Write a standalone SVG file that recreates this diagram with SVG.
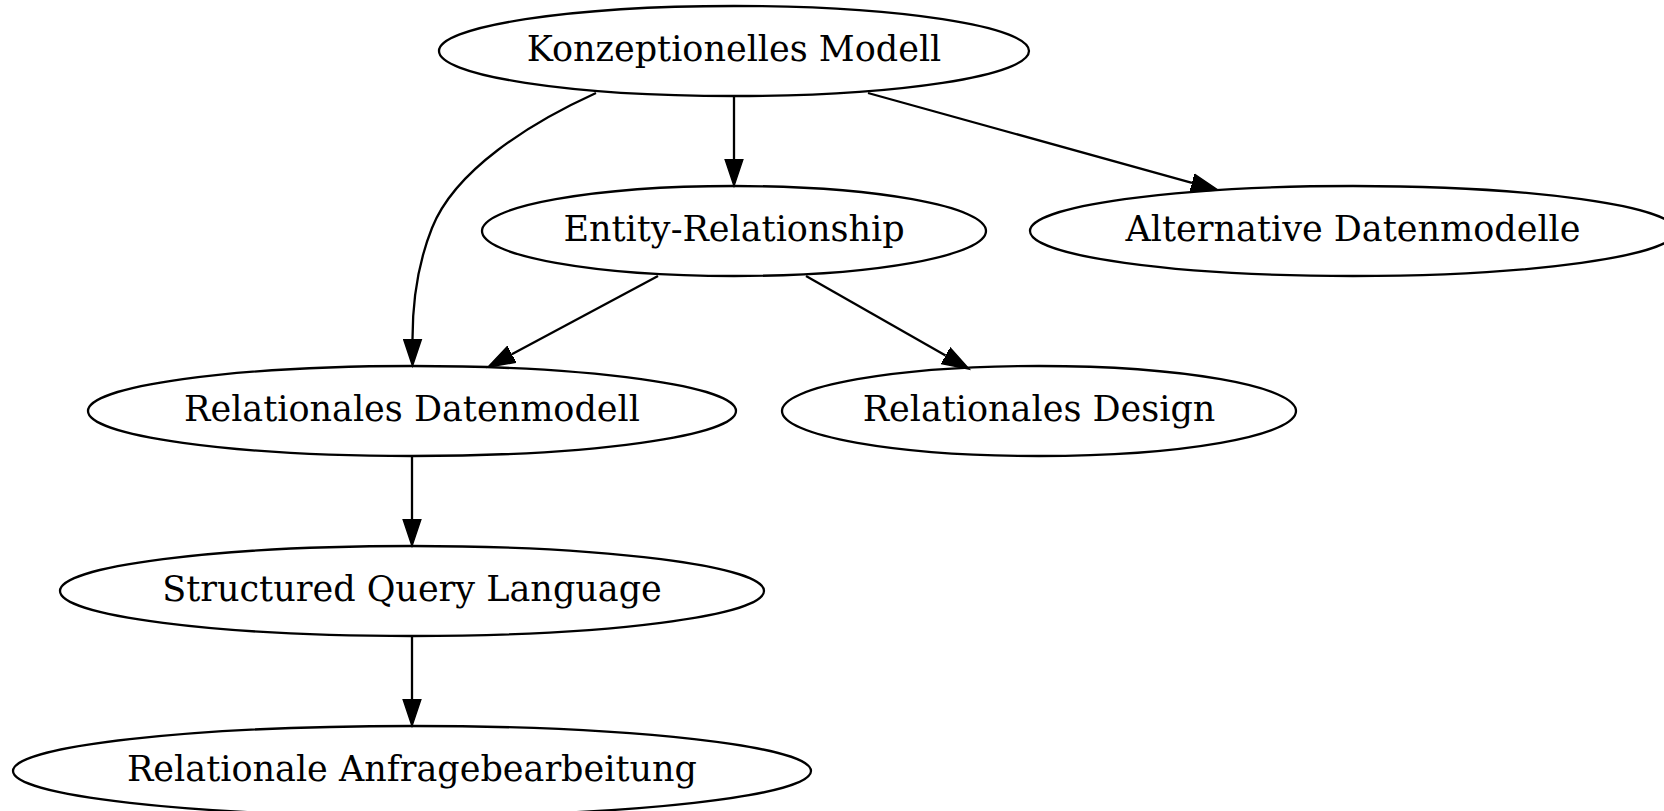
<svg xmlns="http://www.w3.org/2000/svg" width="1664" height="811" viewBox="0 0 1664 811">
<style>
.node ellipse{fill:none;stroke:#000;stroke-width:2.3}
.node text{font-family:"DejaVu Serif","Liberation Serif",serif;font-size:35px;text-anchor:middle;fill:#000}
.edge{fill:none;stroke:#000;stroke-width:2.3;marker-end:url(#arr)}
</style>
<defs>
<marker id="arr" markerUnits="userSpaceOnUse" markerWidth="30" markerHeight="20" refX="0" refY="10" viewBox="0 0 30 20" orient="auto">
<path d="M0,1 L27,10 L0,19 z" fill="#000" stroke="#000" stroke-width="1.5"/>
</marker>
</defs>
<rect width="1664" height="811" fill="#fff"/>
<g id="connectors">
<path class="edge" d="M734,96 L734,159"/>
<path class="edge" d="M868,93 L1192,182.8"/>
<path class="edge" d="M596,93 C530,123 455,170 432,228 C416,268 412.5,305 412.5,339"/>
<path class="edge" d="M658,276 L511.8,354.3"/>
<path class="edge" d="M806,276 L945.6,355.6"/>
<path class="edge" d="M412,456 L412,519"/>
<path class="edge" d="M412,636 L412,699"/>
</g>
<g id="n1" class="node"><ellipse cx="734" cy="51" rx="295" ry="45"/><text x="734" y="61">Konzeptionelles Modell</text></g>
<g id="n2" class="node"><ellipse cx="734" cy="231" rx="252" ry="45"/><text x="734" y="241">Entity-Relationship</text></g>
<g id="n3" class="node"><ellipse cx="1353" cy="231" rx="323" ry="45"/><text x="1353" y="241">Alternative Datenmodelle</text></g>
<g id="n4" class="node"><ellipse cx="412" cy="411" rx="324" ry="45"/><text x="412" y="421">Relationales Datenmodell</text></g>
<g id="n5" class="node"><ellipse cx="1039" cy="411" rx="257" ry="45"/><text x="1039" y="421">Relationales Design</text></g>
<g id="n6" class="node"><ellipse cx="412" cy="591" rx="352" ry="45"/><text x="412" y="601">Structured Query Language</text></g>
<g id="n7" class="node"><ellipse cx="412" cy="771" rx="399" ry="45"/><text x="412" y="781">Relationale Anfragebearbeitung</text></g>
</svg>
